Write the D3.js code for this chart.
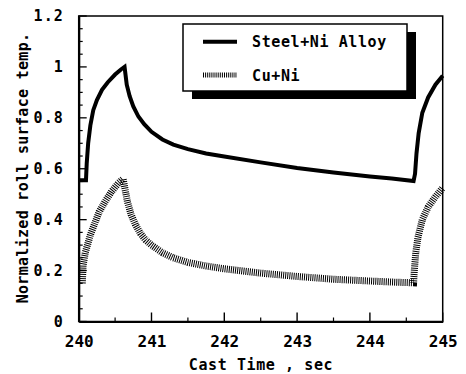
<!DOCTYPE html>
<html>
<head>
<meta charset="utf-8">
<script src="https://cdn.jsdelivr.net/npm/d3@7/dist/d3.min.js"></script>
<style>
  html, body { margin: 0; padding: 0; background: #fff; }
  svg text { font-family: "DejaVu Sans Mono", "Liberation Mono", monospace; fill: #000; }
</style>
</head>
<body>
<svg id="chart" width="466" height="374"></svg>
<script>
// Cast time (s) and normalized roll surface temperature
const steelTime = [240.00, 240.10, 240.11, 240.13, 240.16, 240.20, 240.25, 240.32, 240.40, 240.50, 240.58, 240.63,
  240.66, 240.70, 240.75, 240.82, 240.90, 241.00, 241.15, 241.30, 241.50, 241.75, 242.00, 242.50, 243.00, 243.50,
  244.00, 244.30, 244.60, 244.62, 244.64, 244.67, 244.72, 244.80, 244.90, 245.00];
const steelTemp = [0.555, 0.555, 0.62, 0.70, 0.77, 0.83, 0.87, 0.91, 0.94, 0.97, 0.99, 1.00,
  0.93, 0.885, 0.845, 0.805, 0.775, 0.745, 0.715, 0.695, 0.677, 0.660, 0.648, 0.625, 0.603, 0.585,
  0.570, 0.562, 0.552, 0.58, 0.66, 0.74, 0.82, 0.88, 0.93, 0.965];

const cuTime = [240.05, 240.06, 240.09, 240.12, 240.16, 240.20, 240.28, 240.36, 240.45, 240.55, 240.61,
  240.63, 240.67, 240.72, 240.78, 240.85, 240.92, 241.00, 241.15, 241.30, 241.50, 241.75, 242.00, 242.50,
  243.00, 243.50, 244.00, 244.30, 244.60, 244.61, 244.63, 244.66, 244.72, 244.80, 244.90, 245.00];
const cuTemp = [0.15, 0.22, 0.27, 0.30, 0.34, 0.37, 0.43, 0.47, 0.51, 0.545, 0.56,
  0.53, 0.47, 0.42, 0.38, 0.345, 0.32, 0.30, 0.27, 0.25, 0.232, 0.218, 0.207, 0.19,
  0.177, 0.166, 0.159, 0.155, 0.152, 0.20, 0.27, 0.33, 0.40, 0.45, 0.49, 0.525];

const xTickValues = [240, 241, 242, 243, 244, 245];
const yTickValues = [0, 0.2, 0.4, 0.6, 0.8, 1, 1.2];
const yTickLabels = ["0", "0.2", "0.4", "0.6", "0.8", "1", "1.2"];
const seriesNames = ["Steel+Ni Alloy", "Cu+Ni"];

const svg = d3.select("#chart");
const plotLeft = 78.7, plotRight = 442.7, plotTop = 16, plotBottom = 321.5;

const x = d3.scaleLinear().domain([240, 245]).range([plotLeft, plotRight]);
const y = d3.scaleLinear().domain([0, 1.2]).range([plotBottom, plotTop]);

// plot frame
svg.append("rect")
  .attr("x", plotLeft).attr("y", plotTop)
  .attr("width", plotRight - plotLeft).attr("height", plotBottom - plotTop)
  .attr("fill", "none").attr("stroke", "#000").attr("stroke-width", 1.5);

// bottom axis with inward ticks
const xMinor = d3.range(240.5, 245, 1);
const xAxis = d3.axisBottom(x).tickValues(xTickValues).tickSize(0).tickPadding(10).tickFormat(d3.format("d"));
const gx = svg.append("g").attr("transform", `translate(0,${plotBottom})`).call(xAxis);
gx.select(".domain").attr("stroke", "#000").attr("stroke-width", 2.2);
gx.selectAll("text").attr("font-size", 16).attr("font-weight", "bold").attr("dy", "0.95em");
svg.append("g").selectAll("line").data(xTickValues).join("line")
  .attr("x1", d => x(d)).attr("x2", d => x(d))
  .attr("y1", plotBottom).attr("y2", plotBottom - 9)
  .attr("stroke", "#000").attr("stroke-width", 1.4);
svg.append("g").selectAll("line").data(xMinor).join("line")
  .attr("x1", d => x(d)).attr("x2", d => x(d))
  .attr("y1", plotBottom).attr("y2", plotBottom - 4)
  .attr("stroke", "#000").attr("stroke-width", 1.2);

// left axis with inward ticks
const yAxis = d3.axisLeft(y).tickValues(yTickValues).tickSize(0).tickPadding(15)
  .tickFormat((d, i) => yTickLabels[i]);
const gy = svg.append("g").attr("transform", `translate(${plotLeft},0)`).call(yAxis);
gy.select(".domain").attr("stroke", "#000").attr("stroke-width", 2.2);
gy.selectAll("text").attr("font-size", 15).attr("font-weight", "bold").attr("letter-spacing", 1);
const yMinor = d3.range(0.05, 1.2, 0.05).filter(v => Math.abs(v / 0.2 - Math.round(v / 0.2)) > 1e-6);
svg.append("g").selectAll("line").data(yTickValues).join("line")
  .attr("x1", plotLeft).attr("x2", plotLeft + 8)
  .attr("y1", d => y(d)).attr("y2", d => y(d))
  .attr("stroke", "#000").attr("stroke-width", 1.3);
svg.append("g").selectAll("line").data(yMinor).join("line")
  .attr("x1", plotLeft).attr("x2", plotLeft + 4)
  .attr("y1", d => y(d)).attr("y2", d => y(d))
  .attr("stroke", "#000").attr("stroke-width", 1.2);

// curves
const line = d3.line().x(d => x(d[0])).y(d => y(d[1]));
const steelPts = steelTime.map((t, i) => [t, steelTemp[i]]);
const cuPts = cuTime.map((t, i) => [t, cuTemp[i]]);

svg.append("path").datum(cuPts).attr("d", line)
  .attr("fill", "none").attr("stroke", "#000").attr("stroke-width", 7)
  .attr("stroke-dasharray", "1,1.1");
svg.append("path").datum(steelPts).attr("d", line)
  .attr("fill", "none").attr("stroke", "#000").attr("stroke-width", 4)
  .attr("stroke-linejoin", "miter");

// legend with drop shadow
const lg = svg.append("g");
lg.append("rect").attr("x", 192).attr("y", 32).attr("width", 224).attr("height", 67).attr("fill", "#000");
lg.append("rect").attr("x", 183).attr("y", 24).attr("width", 224).attr("height", 67)
  .attr("fill", "#fff").attr("stroke", "#000").attr("stroke-width", 1.5);
lg.append("line").attr("x1", 203).attr("x2", 237).attr("y1", 41.7).attr("y2", 41.7)
  .attr("stroke", "#000").attr("stroke-width", 4);
lg.append("line").attr("x1", 203).attr("x2", 237).attr("y1", 75).attr("y2", 75)
  .attr("stroke", "#000").attr("stroke-width", 5).attr("stroke-dasharray", "1,1.1");
lg.selectAll("text").data(seriesNames).join("text")
  .attr("x", 252).attr("y", (d, i) => i === 0 ? 47 : 80.5)
  .attr("font-size", 15).attr("font-weight", "bold").attr("letter-spacing", 0.6)
  .text(d => d);

// axis titles
svg.append("text").attr("x", 261).attr("y", 370).attr("text-anchor", "middle")
  .attr("font-size", 15).attr("font-weight", "bold").attr("letter-spacing", 0.6)
  .text("Cast Time , sec");
svg.append("text").attr("transform", `translate(28,168) rotate(-90)`).attr("text-anchor", "middle")
  .attr("font-size", 15).attr("font-weight", "bold").attr("letter-spacing", 0.3)
  .text("Normalized roll surface temp.");
</script>
</body>
</html>
